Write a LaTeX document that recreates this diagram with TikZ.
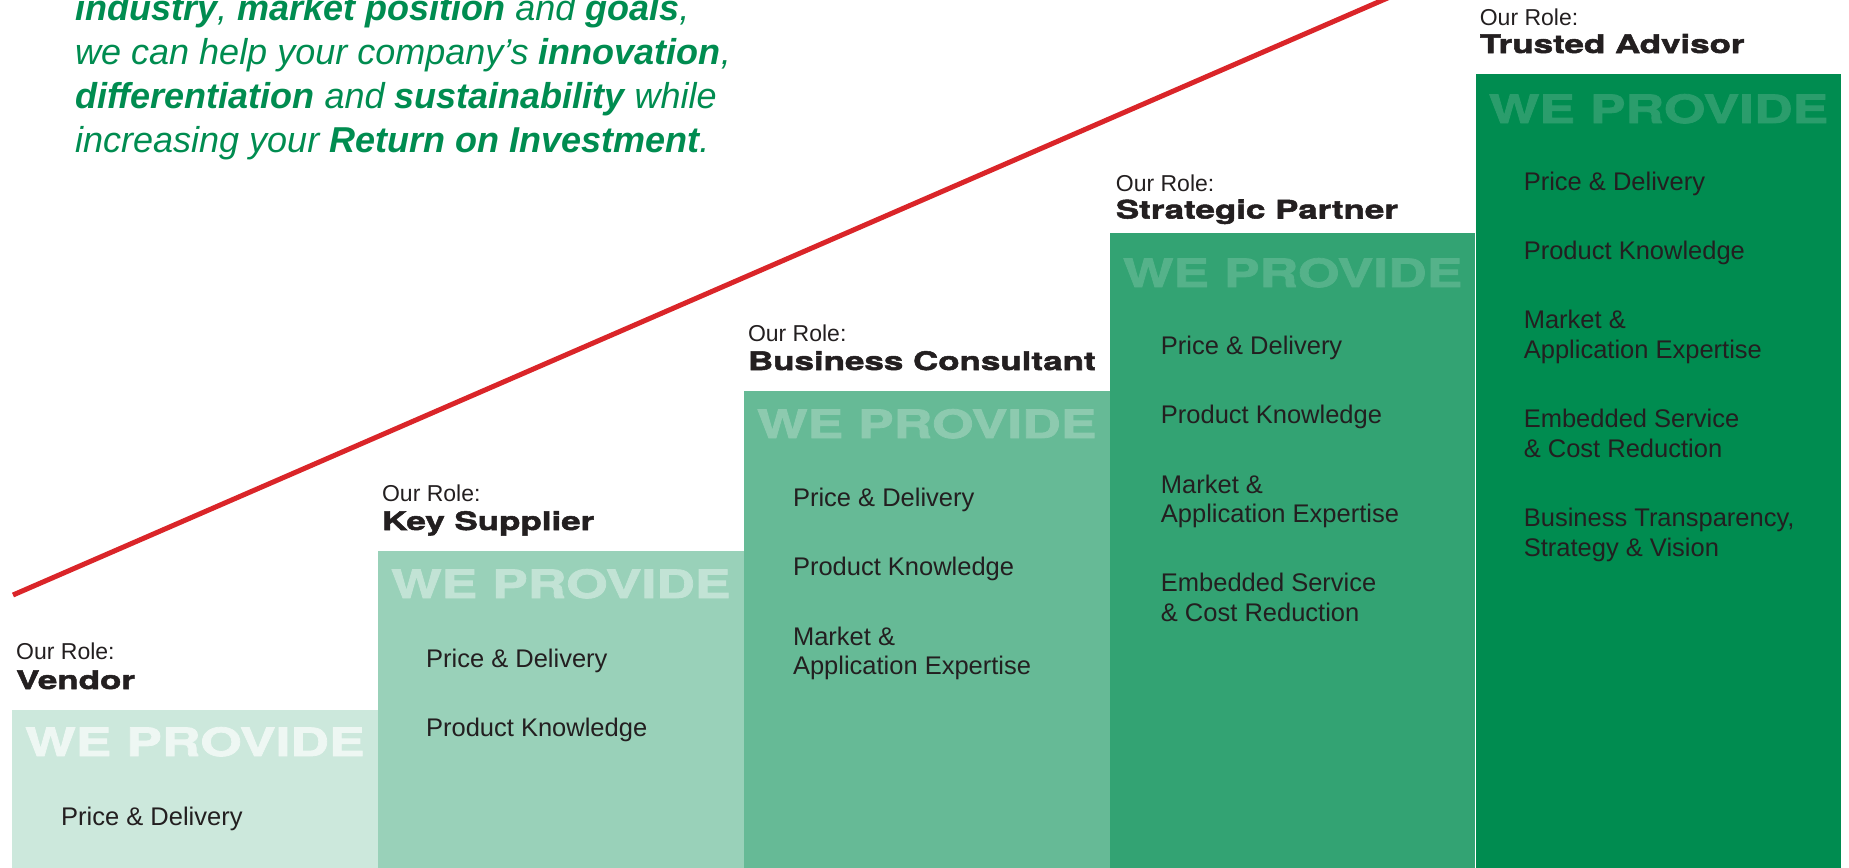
\documentclass[tikz,border=0pt]{standalone}
\usepackage{xcolor}
\usepackage{fontspec}
\setmainfont{Liberation Sans}
\newfontfamily\widefont[FakeStretch=1.37,FakeBold=2]{TeX Gyre Heros}
\usetikzlibrary{calc, positioning}

\definecolor{brandgreen}{RGB}{0,140,80}
\definecolor{ink}{RGB}{35,31,32}
\definecolor{trendred}{RGB}{218,37,41}
\definecolor{wp1}{RGB}{238,247,243}
\definecolor{wp2}{RGB}{194,227,213}
\definecolor{wp3}{RGB}{141,202,175}
\definecolor{wp4}{RGB}{85,178,138}
\definecolor{wp5}{RGB}{43,157,108}

\begin{document}
\begin{tikzpicture}[x=1pt,y=-1pt,
    stair/.style={rectangle,inner sep=0pt,anchor=north west,minimum width=365.5pt},
    item/.style={anchor=base west,inner sep=0pt,align=left,text=ink,font=\fontsize{25.5}{29.5}\selectfont},
    role head/.style={anchor=base west,inner sep=0pt,text=ink,font=\fontsize{23}{27}\selectfont},
    role name/.style={anchor=base west,inner sep=0pt,text=ink,font=\widefont\bfseries\fontsize{25.5}{30}\selectfont},
    we provide/.style={anchor=base,inner sep=0pt,font=\widefont\bfseries\fontsize{39}{44}\selectfont},
    pitch/.style={anchor=base west,inner sep=0pt,align=left,text=brandgreen,font=\itshape\fontsize{36}{44}\selectfont},
    trend/.style={draw=trendred,line width=5pt}]

  \useasboundingbox (0,0) rectangle (1849,867);

  % the five stairs
  \node[stair,fill=brandgreen!20,minimum height=160pt] (box1) at (12,710) {};
  \node[stair,fill=brandgreen!40,minimum height=319pt] (box2) at (box1.north east |- 0,551) {};
  \node[stair,fill=brandgreen!60,minimum height=479pt] (box3) at (box2.north east |- 0,391) {};
  \node[stair,fill=brandgreen!80,minimum height=637pt] (box4) at (box3.north east |- 0,233) {};
  \node[stair,fill=brandgreen,minimum height=796pt] (box5) at (box4.north east |- 0,74) {};

  % trend line
  \coordinate (trend start) at (13,595);
  \coordinate (trend end) at (1400,-7.4);
  \draw[trend] (trend start) -- (trend end);

  % base of a multi-line node = last line
  \node[pitch] (pitch) at (75,152) {\textbf{industry}, \textbf{market position} and \textbf{goals},\\
    we can help your company's \textbf{innovation},\\
    \textbf{differentiation} and \textbf{sustainability} while\\
    increasing your \textbf{Return on Investment}.};

  % roles
  \node[role head] (head1) at ($(box1.north west)+(4,-51)$) {Our Role:};
  \node[role name] (role1) at ($(box1.north west)+(4,-21)$) {Vendor};
  \node[role head] (head2) at ($(box2.north west)+(4,-50)$) {Our Role:};
  \node[role name] (role2) at ($(box2.north west)+(4,-21)$) {Key Supplier};
  \node[role head] (head3) at ($(box3.north west)+(4,-50)$) {Our Role:};
  \node[role name] (role3) at ($(box3.north west)+(4,-21)$) {Business Consultant};
  \node[role head] (head4) at ($(box4.north west)+(6,-42)$) {Our Role:};
  \node[role name] (role4) at ($(box4.north west)+(6,-14.5)$) {Strategic Partner};
  \node[role head] (head5) at ($(box5.north west)+(4,-48)$) {Our Role:};
  \node[role name] (role5) at ($(box5.north west)+(4,-21)$) {Trusted Advisor};

  \node[we provide,text=wp1] (wp1) at ($(box1.north)+(0,46)$) {WE PROVIDE};
  \node[we provide,text=wp2] (wp2) at ($(box2.north)+(0,47)$) {WE PROVIDE};
  \node[we provide,text=wp3] (wp3) at ($(box3.north)+(0,47)$) {WE PROVIDE};
  \node[we provide,text=wp4] (wp4) at ($(box4.north)+(0,54)$) {WE PROVIDE};
  \node[we provide,text=wp5] (wp5) at ($(box5.north)+(0,49)$) {WE PROVIDE};

  % what we provide
  \node[item] (i11) at ($(box1.north west)+(49,115)$) {Price \& Delivery};

  \node[item] (i21) at ($(box2.north west)+(48,116)$) {Price \& Delivery};
  \node[item] (i22) at ($(box2.north west)+(48,185.5)$) {Product Knowledge};

  \node[item] (i31) at ($(box3.north west)+(49,115)$) {Price \& Delivery};
  \node[item] (i32) at ($(box3.north west)+(49,184.5)$) {Product Knowledge};
  \node[item] (i33) at ($(box3.north west)+(49,283.5)$) {Market \&\\Application Expertise};

  \node[item] (i41) at ($(box4.north west)+(51,121)$) {Price \& Delivery};
  \node[item] (i42) at ($(box4.north west)+(51,190.5)$) {Product Knowledge};
  \node[item] (i43) at ($(box4.north west)+(51,289.5)$) {Market \&\\Application Expertise};
  \node[item] (i44) at ($(box4.north west)+(51,388)$) {Embedded Service\\\& Cost Reduction};

  \node[item] (i51) at ($(box5.north west)+(48,116)$) {Price \& Delivery};
  \node[item] (i52) at ($(box5.north west)+(48,185.5)$) {Product Knowledge};
  \node[item] (i53) at ($(box5.north west)+(48,284)$) {Market \&\\Application Expertise};
  \node[item] (i54) at ($(box5.north west)+(48,383)$) {Embedded Service\\\& Cost Reduction};
  \node[item] (i55) at ($(box5.north west)+(48,482)$) {Business Transparency,\\Strategy \& Vision};

\end{tikzpicture}
\end{document}
